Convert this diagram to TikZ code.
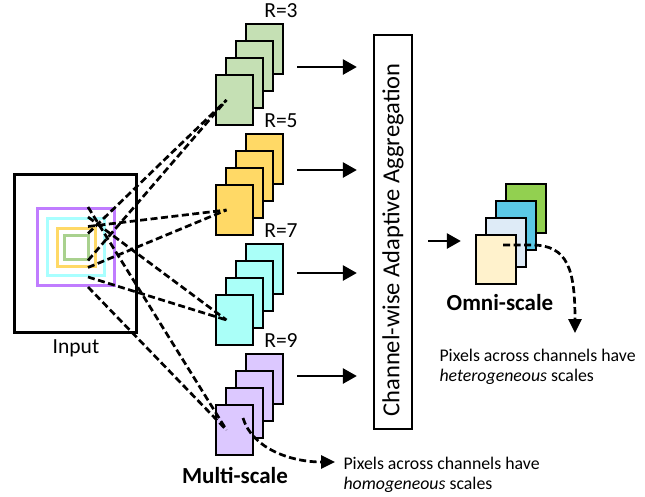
\documentclass[tikz,border=0pt]{standalone}
\usepackage{fontspec}
\setmainfont{Carlito}
\usetikzlibrary{arrows.meta,positioning}

\definecolor{cardgreen}{HTML}{C5E0B4}
\definecolor{cardyellow}{HTML}{FFD966}
\definecolor{cardcyan}{HTML}{AAFFF8}
\definecolor{cardpurple}{HTML}{DCC8FF}
\definecolor{ringgreen}{HTML}{A9D18E}
\definecolor{ringyellow}{HTML}{FFD966}
\definecolor{ringcyan}{HTML}{A8FFFF}
\definecolor{ringpurple}{HTML}{C07CFF}
\definecolor{omnicream}{HTML}{FFF2CC}
\definecolor{omnilight}{HTML}{DEEBF7}
\definecolor{omniblue}{HTML}{5BC8E6}
\definecolor{omnigreen}{HTML}{92D050}

\tikzset{
  card/.style={draw, line width=2.3pt, minimum width=37pt, minimum height=50pt, inner sep=0pt},
  ring/.style={line width=3pt, minimum size=#1, inner sep=0pt},
  cone/.style={line width=2.7pt, dash pattern=on 7pt off 3.5pt},
  arr/.style={line width=2.6pt, -{Triangle[length=14pt,width=15pt]}},
  lbl/.style={font=\fontsize{21.5}{24}\selectfont},
  note/.style={anchor=west, align=left, font=\fontsize{17.8}{20}\selectfont},
  title/.style={font=\fontsize{23}{26}\selectfont\bfseries},
}

\begin{document}
\begin{tikzpicture}[x=1pt,y=-1pt]
\useasboundingbox (0,0) rectangle (645,496);

% input
\node[draw, line width=2.7pt, minimum width=122pt, minimum height=158pt, inner sep=0pt] (inbox) at (75.5,253.5) {};
\node[lbl] (inlab) at (76,348) {Input};
\node[ring=77pt, draw=ringpurple] (sq9) at (76,247) {};
\node[ring=57pt, draw=ringcyan] (sq7) at (76,247) {};
\node[ring=38pt, draw=ringyellow] (sq5) at (76,247) {};
\node[ring=24pt, draw=ringgreen] (sq3) at (76,247) {};

% aggregation
\node[draw, line width=2.3pt, minimum width=38pt, minimum height=394pt] (agg) at (393,232) {};
\node[rotate=90, font=\fontsize{24.5}{26}\selectfont] (aggtxt) at (393,240) {Channel-wise Adaptive Aggregation};

% multi-scale stacks
\foreach \k/\r/\c in {0/3/cardgreen,1/5/cardyellow,2/7/cardcyan,3/9/cardpurple}{
  \foreach \j in {3,2,1,0}
    \node[card, fill=\c] (r\r c\j) at (234.5+10*\j, 100+110*\k-17*\j) {};
  \node[lbl] (r\r lab) at (281, 11+110*\k) {R=\r};
  \coordinate (m\r) at (297, 67+103*\k);
  \draw[arr, shorten >=16pt] (m\r) -- (m\r -| agg.west);
}

% receptive fields
\foreach \r in {3,5,7,9}{
  \draw[cone] ([xshift=12pt]sq\r.north) -- ([xshift=-8pt]r\r c0.center);
  \draw[cone] ([xshift=12pt]sq\r.south) -- ([xshift=-8pt]r\r c0.center);
}

% omni-scale
\foreach \j/\c in {3/omnigreen,2/omniblue,1/omnilight,0/omnicream}
  \node[card, minimum width=40pt, minimum height=49pt, fill=\c] (om\j) at (496+10*\j, 259.5-17*\j) {};
\coordinate (aggout) at (428,241);
\draw[arr, shorten >=14pt] (aggout) -- (aggout -| om0.west);
\node[title] (omni) at (500,303) {Omni-scale};

\coordinate (omsrc) at (503,245);
\coordinate (hetend) at (575,333);
\draw[cone, -{Triangle[length=14pt,width=13pt]}] (omsrc) -- (532,245) .. controls (568,245) and (575,270) .. (hetend);
\node[note] (het) at (436,367) {Pixels across channels have\\\textit{heterogeneous} scales};

% multi-scale note
\node[title] (multi) at (235,475) {Multi-scale};
\coordinate (mssrc) at (243,418);
\coordinate (homend) at (335,462);
\draw[cone, -{Triangle[length=14pt,width=13pt]}] (mssrc) .. controls (252,448) and (290,462) .. (homend);
\node[note] (hom) at (340,475) {Pixels across channels have\\\textit{homogeneous} scales};
\end{tikzpicture}
\end{document}
